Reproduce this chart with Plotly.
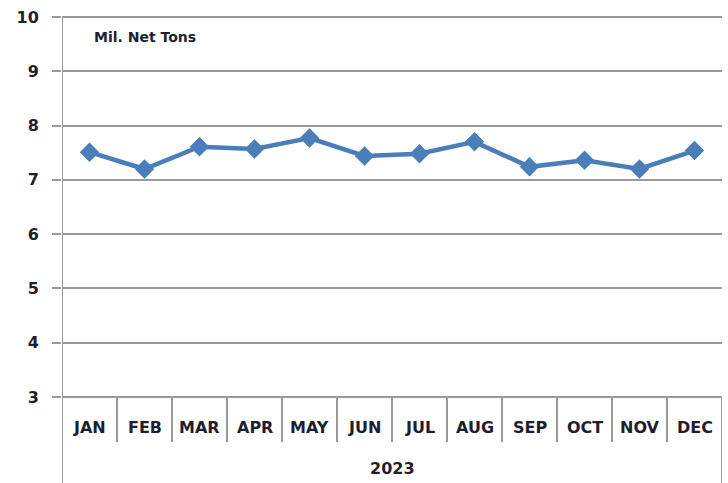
import plotly.graph_objects as go

months = ["JAN", "FEB", "MAR", "APR", "MAY", "JUN", "JUL", "AUG", "SEP", "OCT", "NOV", "DEC"]
values = [7.51, 7.20, 7.61, 7.57, 7.77, 7.44, 7.48, 7.70, 7.24, 7.36, 7.20, 7.54]
year_label = "2023"
unit_label = "Mil. Net Tons"
y_ticks = [3, 4, 5, 6, 7, 8, 9, 10]

W, H = 728, 483
L, R, T, B = 62, 6, 17, 86
plot_w = W - L - R
plot_h = H - T - B

def py(pix):
    # pixel y -> paper y
    return (H - B - pix) / plot_h

def px(pix):
    return (pix - L) / plot_w

fig = go.Figure()
fig.add_trace(go.Scatter(
    x=months, y=values, mode="lines+markers",
    line=dict(color="#4A7EBB", width=4.5),
    marker=dict(symbol="diamond", size=15, color="#4A7EBB"),
    hoverinfo="skip",
))

grid = "#9A9A9A"
txt = "#1E1E2E"
shapes = []
n = len(months)
# category separators
for k in range(1, n):
    shapes.append(dict(type="line", xref="x", yref="paper", x0=k - 0.5, x1=k - 0.5,
                       y0=0, y1=py(442), line=dict(color=grid, width=2)))
# left axis line down to bottom
shapes.append(dict(type="line", xref="x", yref="paper", x0=-0.5, x1=-0.5,
                   y0=1, y1=py(H), line=dict(color=grid, width=2)))
# right edge line below plot
shapes.append(dict(type="line", xref="x", yref="paper", x0=n - 0.5, x1=n - 0.5,
                   y0=0, y1=py(H), line=dict(color=grid, width=2)))
# top and bottom horizontal lines
for yy in (0, 1):
    shapes.append(dict(type="line", xref="paper", yref="paper", x0=0, x1=1,
                       y0=yy, y1=yy, line=dict(color=grid, width=2)))

annotations = []
for m in months:
    annotations.append(dict(x=m, y=py(427), xref="x", yref="paper", text=m, showarrow=False,
                            font=dict(family="DejaVu Sans", size=16, color=txt, weight="bold"),
                            xanchor="center", yanchor="middle"))
annotations.append(dict(x=(n - 1) / 2, y=py(469), xref="x", yref="paper", text=year_label,
                        showarrow=False,
                        font=dict(family="DejaVu Sans", size=16, color=txt, weight="bold"),
                        xanchor="center", yanchor="middle"))
annotations.append(dict(x=px(92), y=py(37), xref="paper", yref="paper", text=unit_label,
                        showarrow=False, xanchor="left", yanchor="middle",
                        font=dict(family="DejaVu Sans", size=14, color=txt, weight="bold")))

fig.update_layout(
    width=W, height=H, autosize=False,
    margin=dict(l=L, r=R, t=T, b=B, pad=0),
    paper_bgcolor="white", plot_bgcolor="white",
    showlegend=False,
    shapes=shapes, annotations=annotations,
    xaxis=dict(type="category", range=[-0.5, n - 0.5], showgrid=False, showticklabels=False,
               ticks="", zeroline=False, showline=False, fixedrange=True),
    yaxis=dict(range=[3, 10], tickvals=y_ticks, showgrid=True, gridcolor=grid, gridwidth=2,
               ticks="outside", ticklen=9, tickcolor=grid, tickwidth=2,
               showline=False, zeroline=False, fixedrange=True,
               tickfont=dict(family="DejaVu Sans", size=16, color=txt, weight="bold"),
               ticklabelstandoff=10),
)

fig.write_html("out.html", config={"displayModeBar": False, "staticPlot": True},
               post_script="document.body.style.margin='0px';document.body.style.overflow='hidden';")
